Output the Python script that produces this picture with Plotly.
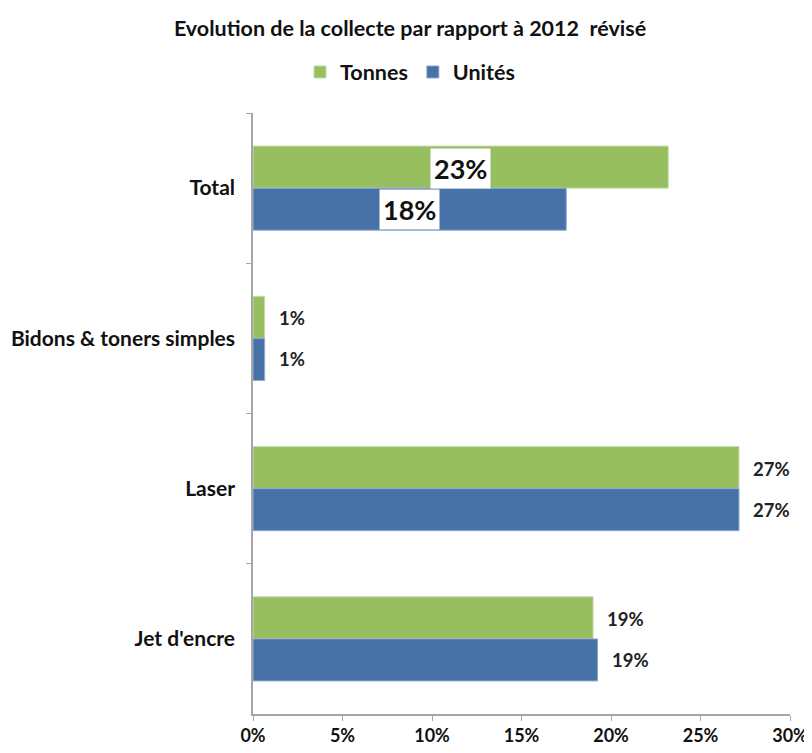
import plotly.graph_objects as go

categories = ["Total", "Bidons & toners simples", "Laser", "Jet d'encre"]
tonnes = [23.2, 0.65, 27.15, 19.0]
unites = [17.5, 0.65, 27.15, 19.25]
tonnes_labels = ["23%", "1%", "27%", "19%"]
unites_labels = ["18%", "1%", "27%", "19%"]
series_names = ["Tonnes", "Unités"]
title_text = "Evolution de la collecte par rapport à 2012  révisé"

GREEN = "#97bf5f"
BLUE = "#4672a8"
FONT = "Lato"

# page body has an 8px default margin -> figure is 804x745
W, H = 804, 745

fig = go.Figure()
fig.add_trace(go.Bar(y=categories, x=tonnes, orientation="h", name="<b>%s</b>" % series_names[0],
                     marker=dict(color=GREEN, line=dict(color="#c8dcae", width=1))))
fig.add_trace(go.Bar(y=categories, x=unites, orientation="h", name="<b>%s</b>" % series_names[1],
                     marker=dict(color=BLUE, line=dict(color="#8fa9cc", width=1))))

annotations = []
for i, cat in enumerate(categories):
    for vals, labs, shift in ((tonnes, tonnes_labels, 20), (unites, unites_labels, -21)):
        if i == 0:
            annotations.append(dict(
                x=vals[i] / 2, y=cat, yshift=shift, text="<b>%s</b>" % labs[i], showarrow=False,
                xanchor="center", yanchor="middle", bgcolor="white", borderpad=3,
                font=dict(family=FONT, size=27, color="#111111")))
        else:
            annotations.append(dict(
                x=vals[i], y=cat, yshift=shift, xshift=12, text="<b>%s</b>" % labs[i], showarrow=False,
                xanchor="left", yanchor="middle",
                font=dict(family=FONT, size=18.5, color="#222222")))

fig.update_layout(
    width=W, height=H,
    paper_bgcolor="white", plot_bgcolor="white",
    margin=dict(l=245, r=22, t=105, b=39),
    barmode="group", bargap=0.44, bargroupgap=0.0,
    title=dict(text="<b>%s</b>" % title_text, x=0.5, xanchor="center", xref="container",
               y=1 - 20 / H, yanchor="middle", yref="container",
               font=dict(family=FONT, size=21.5, color="#111111")),
    legend=dict(orientation="h", x=0.5, xanchor="center", xref="container",
                y=1 - 64 / H, yanchor="middle", yref="container",
                font=dict(family=FONT, size=21.5, color="#111111"), itemwidth=30,
                traceorder="normal"),
    annotations=annotations,
    xaxis=dict(range=[0, 30], dtick=5, ticksuffix="%", showgrid=False, zeroline=False,
               showline=True, linecolor="#a6a6a6", linewidth=1.5,
               ticks="outside", ticklen=5, tickcolor="#a6a6a6",
               tickfont=dict(family=FONT, size=18, color="#111111"),
               tickprefix="<b>", fixedrange=True, automargin=False),
    yaxis=dict(autorange="reversed", showgrid=False, zeroline=False,
               showline=True, linecolor="#a6a6a6", linewidth=1.5,
               ticks="outside", ticklen=5, tickcolor="#a6a6a6", tickson="boundaries",
               tickfont=dict(family=FONT, size=21, color="#111111"),
               tickprefix="<b>", ticksuffix="</b>", ticklabelstandoff=12, automargin=False),
)

fig.write_html("out.html")
